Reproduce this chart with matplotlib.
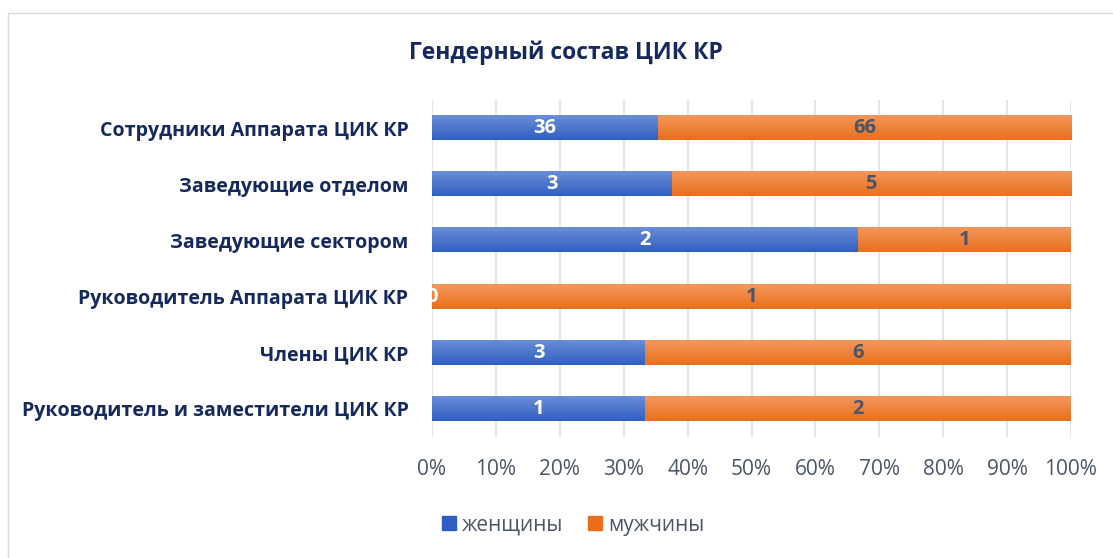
"""Gender composition chart, 100% stacked horizontal bars"""

import numpy as np
import matplotlib
matplotlib.use('Agg')
import matplotlib.pyplot as plt
import matplotlib.patches as mpatches
from matplotlib.colors import LinearSegmentedColormap


categories = ['Руководитель и заместители ЦИК КР',
              'Члены ЦИК КР',
              'Руководитель Аппарата ЦИК КР',
              'Заведующие сектором',
              'Заведующие отделом',
              'Сотрудники Аппарата ЦИК КР']
women = np.array([1, 3, 0, 2, 3, 36])
men = np.array([2, 6, 1, 1, 5, 66])
series_names = ['женщины', 'мужчины']
title = 'Гендерный состав ЦИК КР'

NAVY = '#15295e'
GRAY = '#4b5568'
BLUE_TOP, BLUE_BOT = '#6a8fd8', '#2f5fc0'
ORANGE_TOP, ORANGE_BOT = '#f3975c', '#e96f1d'

plt.rcParams['font.family'] = ['Open Sans', 'DejaVu Sans']

total = women + men
w_share = women / total
m_share = men / total
y = np.arange(len(categories))

fig = plt.figure(figsize=(11.13, 5.58), dpi=100)
ax = fig.add_axes([432 / 1113, 1 - 437 / 558, 639 / 1113, 337 / 558])

bar_h = 0.43
w_bars = ax.barh(y, w_share, height=bar_h, color=BLUE_BOT, zorder=2)
m_bars = ax.barh(y, m_share, left=w_share, height=bar_h, color=ORANGE_BOT,
                 zorder=2)


def shade(bars, top, bottom):
    # vertical gradient over each bar, like the office chart style
    cmap = LinearSegmentedColormap.from_list('g', [bottom, top])
    grad = np.linspace(0, 1, 64).reshape(-1, 1)
    for b in bars:
        if b.get_width() <= 0:
            continue
        x0, y0 = b.get_x(), b.get_y()
        ax.imshow(grad, cmap=cmap, aspect='auto', origin='lower',
                  extent=(x0, x0 + b.get_width(), y0, y0 + b.get_height()),
                  zorder=2.5)


shade(w_bars, BLUE_TOP, BLUE_BOT)
shade(m_bars, ORANGE_TOP, ORANGE_BOT)

for i in range(len(categories)):
    ax.text(w_share[i] / 2, y[i], str(women[i]), ha='center', va='center',
            color='white', fontsize=14.5, fontweight='bold', zorder=4)
    ax.text(w_share[i] + m_share[i] / 2, y[i], str(men[i]), ha='center',
            va='center', color=GRAY, fontsize=14.5, fontweight='bold',
            zorder=4)

ax.set_xlim(0, 1)
ax.set_ylim(-0.5, len(categories) - 0.5)
ax.set_xticks(np.linspace(0, 1, 11))
ax.set_xticklabels([f'{int(round(v * 100))}%' for v in np.linspace(0, 1, 11)],
                   fontsize=15, color=GRAY)
ax.set_yticks(y)
ax.set_yticklabels(categories, fontsize=14.1, fontweight='bold', color=NAVY)
ax.tick_params(axis='both', length=0)
ax.tick_params(axis='y', pad=17)
ax.tick_params(axis='x', pad=16)
ax.grid(axis='x', color='#dfe3ea', linewidth=1.3, zorder=0)
for s in ax.spines.values():
    s.set_visible(False)

fig.text(566 / 1113, 1 - 53 / 558, title, ha='center', va='center',
         fontsize=16.5, fontweight='bold', color=NAVY)

handles = [mpatches.Patch(color=BLUE_BOT), mpatches.Patch(color=ORANGE_BOT)]
fig.legend(handles, series_names, loc='center left', ncol=2,
           bbox_to_anchor=(442 / 1113, 1 - 525 / 558), frameon=False,
           borderpad=0, borderaxespad=0,
           handlelength=0.67, handleheight=0.67, handletextpad=0.29,
           columnspacing=1.2, prop={'size': 15})
for t in fig.legends[0].get_texts():
    t.set_color(GRAY)

fig.patches.append(mpatches.Rectangle((8 / 1113, -0.05), 1.1, 1.05 - 13 / 558,
                                      transform=fig.transFigure, fill=False,
                                      edgecolor='#d9d9d9', linewidth=1))

fig.savefig('out.png', dpi=100)
